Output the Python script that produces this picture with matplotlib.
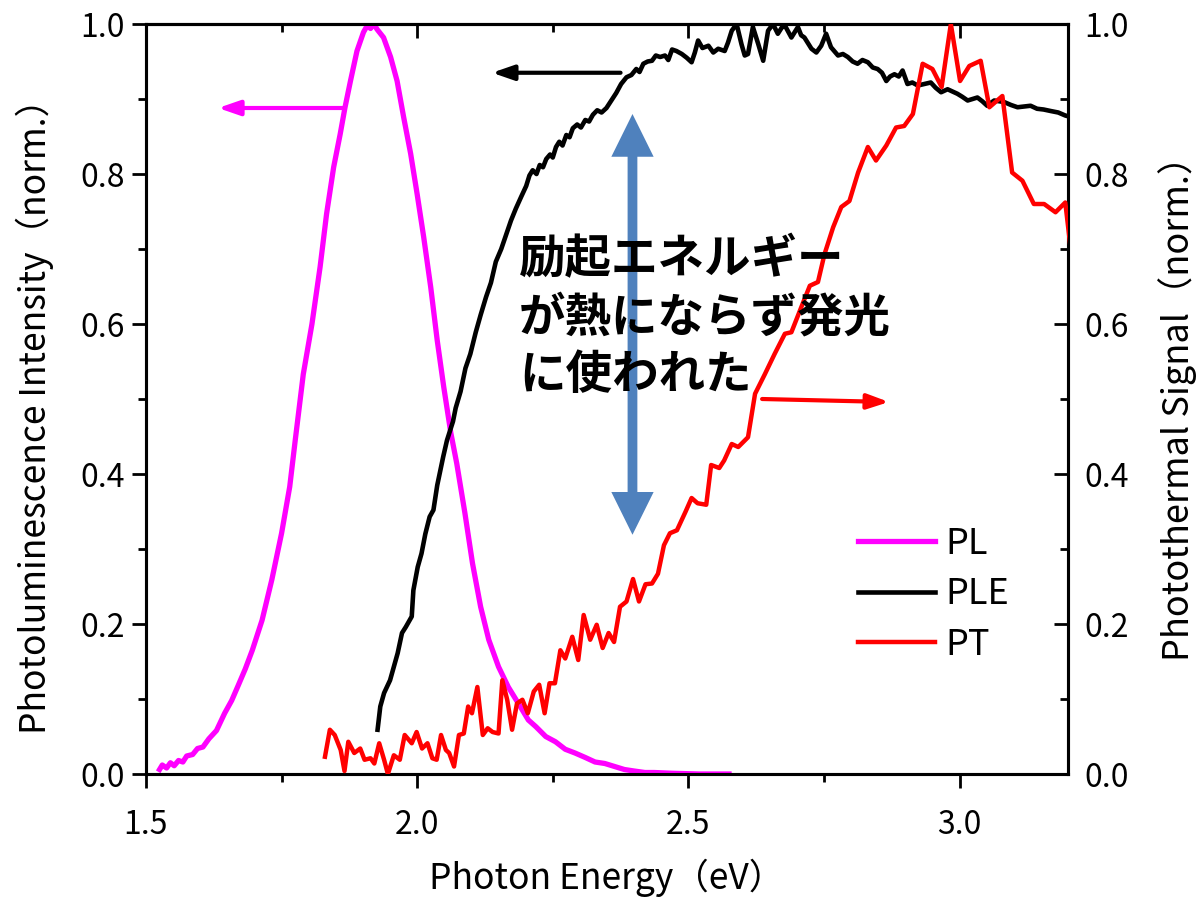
import matplotlib
matplotlib.use("Agg")
import matplotlib.pyplot as plt
from matplotlib.patches import FancyArrow
from matplotlib.ticker import MultipleLocator, FormatStrFormatter

plt.rcParams['font.family'] = ['Noto Sans CJK JP', 'DejaVu Sans']

# ---- PL spectrum (left axis) ----
pl_energy = [1.525, 1.530, 1.538, 1.545, 1.552, 1.560, 1.568, 1.575, 1.586, 1.595,
             1.605, 1.616, 1.630, 1.645, 1.658, 1.670, 1.683, 1.696, 1.714, 1.732,
             1.750, 1.765, 1.775, 1.790, 1.806, 1.821, 1.833, 1.846, 1.858, 1.867,
             1.877, 1.889, 1.901, 1.908, 1.914, 1.920, 1.926, 1.938, 1.951, 1.963,
             1.975, 1.988, 2.000, 2.012, 2.025, 2.037, 2.049, 2.062, 2.073, 2.088,
             2.102, 2.117, 2.132, 2.150, 2.168, 2.190, 2.205, 2.219, 2.237, 2.255,
             2.273, 2.291, 2.310, 2.328, 2.346, 2.364, 2.382, 2.400, 2.420, 2.437,
             2.470, 2.520, 2.575]
pl_intensity = [0.006, 0.012, 0.008, 0.015, 0.011, 0.018, 0.016, 0.024, 0.026, 0.034,
                0.036, 0.047, 0.058, 0.081, 0.098, 0.118, 0.140, 0.165, 0.205, 0.259,
                0.321, 0.383, 0.444, 0.533, 0.600, 0.676, 0.747, 0.809, 0.853, 0.889,
                0.924, 0.964, 0.989, 0.998, 0.994, 1.000, 0.993, 0.982, 0.956, 0.924,
                0.876, 0.827, 0.773, 0.716, 0.649, 0.578, 0.516, 0.455, 0.414, 0.348,
                0.281, 0.223, 0.179, 0.143, 0.116, 0.090, 0.072, 0.063, 0.050, 0.043,
                0.033, 0.028, 0.022, 0.016, 0.014, 0.010, 0.006, 0.004, 0.002, 0.002,
                0.001, 0.000, 0.000]

# ---- PLE spectrum (left axis) ----
ple_energy = [1.927, 1.932, 1.939, 1.950, 1.957, 1.964, 1.972, 1.979, 1.990, 1.993,
              2.001, 2.008, 2.015, 2.023, 2.030, 2.037, 2.048, 2.055, 2.066, 2.071,
              2.080, 2.089, 2.098, 2.108, 2.117, 2.127, 2.136, 2.145, 2.155, 2.164,
              2.173, 2.182, 2.192, 2.201, 2.207, 2.213, 2.220, 2.226, 2.232, 2.238,
              2.245, 2.250, 2.256, 2.262, 2.268, 2.275, 2.281, 2.287, 2.295, 2.302,
              2.310, 2.317, 2.324, 2.332, 2.340, 2.349, 2.358, 2.367, 2.376, 2.386,
              2.395, 2.404, 2.410, 2.417, 2.425, 2.433, 2.440, 2.448, 2.457, 2.463,
              2.470, 2.478, 2.488, 2.497, 2.506, 2.512, 2.518, 2.526, 2.537, 2.546,
              2.555, 2.567, 2.573, 2.580, 2.589, 2.598, 2.604, 2.610, 2.619, 2.629,
              2.638, 2.647, 2.656, 2.665, 2.672, 2.678, 2.690, 2.702, 2.708, 2.714,
              2.727, 2.736, 2.745, 2.754, 2.763, 2.776, 2.785, 2.794, 2.803, 2.812,
              2.821, 2.831, 2.840, 2.849, 2.857, 2.865, 2.872, 2.880, 2.888, 2.895,
              2.904, 2.913, 2.923, 2.935, 2.947, 2.956, 2.966, 2.978, 2.987, 2.996,
              3.005, 3.015, 3.024, 3.033, 3.042, 3.051, 3.058, 3.064, 3.073, 3.082,
              3.095, 3.107, 3.119, 3.131, 3.143, 3.155, 3.168, 3.182, 3.195, 3.200]
ple_intensity = [0.059, 0.090, 0.108, 0.125, 0.143, 0.161, 0.188, 0.196, 0.210, 0.245,
                 0.276, 0.294, 0.320, 0.343, 0.352, 0.385, 0.423, 0.445, 0.470, 0.488,
                 0.510, 0.541, 0.560, 0.589, 0.612, 0.636, 0.655, 0.683, 0.700, 0.719,
                 0.738, 0.754, 0.770, 0.784, 0.798, 0.805, 0.800, 0.812, 0.809, 0.820,
                 0.826, 0.822, 0.836, 0.843, 0.838, 0.852, 0.849, 0.861, 0.866, 0.862,
                 0.872, 0.870, 0.879, 0.885, 0.882, 0.888, 0.898, 0.908, 0.920, 0.929,
                 0.932, 0.940, 0.936, 0.947, 0.950, 0.951, 0.958, 0.956, 0.958, 0.952,
                 0.966, 0.964, 0.960, 0.955, 0.949, 0.962, 0.978, 0.968, 0.971, 0.962,
                 0.967, 0.964, 0.975, 0.991, 1.000, 0.973, 0.958, 0.960, 0.996, 0.973,
                 0.951, 0.991, 1.000, 0.987, 0.995, 0.998, 0.982, 0.996, 0.985, 0.982,
                 0.967, 0.962, 0.971, 0.987, 0.969, 0.958, 0.960, 0.956, 0.950, 0.947,
                 0.952, 0.949, 0.942, 0.940, 0.935, 0.924, 0.930, 0.933, 0.930, 0.938,
                 0.920, 0.922, 0.918, 0.920, 0.922, 0.915, 0.909, 0.913, 0.910, 0.907,
                 0.903, 0.898, 0.900, 0.902, 0.897, 0.891, 0.895, 0.898, 0.897, 0.896,
                 0.892, 0.889, 0.890, 0.891, 0.887, 0.886, 0.884, 0.882, 0.878, 0.877]

# ---- Photothermal signal (right axis) ----
pt_energy = [1.830, 1.839, 1.848, 1.859, 1.866, 1.873, 1.884, 1.895, 1.903, 1.914,
             1.921, 1.930, 1.939, 1.946, 1.957, 1.968, 1.977, 1.990, 1.999, 2.009,
             2.019, 2.028, 2.036, 2.044, 2.053, 2.059, 2.068, 2.077, 2.086, 2.094,
             2.101, 2.111, 2.121, 2.130, 2.139, 2.150, 2.157, 2.166, 2.175, 2.184,
             2.194, 2.204, 2.215, 2.225, 2.235, 2.244, 2.254, 2.264, 2.273, 2.286,
             2.297, 2.307, 2.319, 2.331, 2.342, 2.353, 2.363, 2.374, 2.386, 2.398,
             2.409, 2.421, 2.433, 2.444, 2.455, 2.466, 2.479, 2.495, 2.506, 2.517,
             2.533, 2.542, 2.557, 2.566, 2.580, 2.592, 2.610, 2.623, 2.641, 2.659,
             2.678, 2.690, 2.708, 2.724, 2.739, 2.751, 2.767, 2.782, 2.797, 2.813,
             2.831, 2.846, 2.865, 2.883, 2.898, 2.914, 2.932, 2.950, 2.967, 2.984,
             3.001, 3.018, 3.039, 3.055, 3.079, 3.097, 3.116, 3.137, 3.156, 3.177,
             3.195, 3.205]
pt_signal = [0.023, 0.059, 0.052, 0.032, 0.004, 0.043, 0.028, 0.034, 0.019, 0.021,
             0.014, 0.041, 0.019, 0.000, 0.025, 0.019, 0.052, 0.041, 0.056, 0.034,
             0.041, 0.021, 0.019, 0.052, 0.032, 0.028, 0.010, 0.052, 0.054, 0.090,
             0.081, 0.116, 0.052, 0.061, 0.056, 0.054, 0.125, 0.099, 0.059, 0.094,
             0.099, 0.081, 0.110, 0.119, 0.081, 0.121, 0.121, 0.165, 0.154, 0.183,
             0.152, 0.212, 0.179, 0.199, 0.168, 0.188, 0.176, 0.223, 0.230, 0.260,
             0.230, 0.253, 0.254, 0.267, 0.305, 0.321, 0.325, 0.350, 0.368, 0.361,
             0.359, 0.412, 0.408, 0.418, 0.440, 0.436, 0.449, 0.507, 0.533, 0.560,
             0.587, 0.589, 0.622, 0.651, 0.656, 0.693, 0.729, 0.756, 0.764, 0.802,
             0.836, 0.818, 0.838, 0.862, 0.864, 0.880, 0.947, 0.940, 0.916, 1.000,
             0.924, 0.944, 0.951, 0.889, 0.904, 0.802, 0.791, 0.760, 0.760, 0.749,
             0.762, 0.700]

x_ticks = [1.5, 2.0, 2.5, 3.0]
y_ticks = [0.0, 0.2, 0.4, 0.6, 0.8, 1.0]
series_names = ['PL', 'PLE', 'PT']
series_colors = ['#FF00FF', '#000000', '#FF0000']
note_text = '励起エネルギー\nが熱にならず発光\nに使われた'

fig = plt.figure(figsize=(11.96, 8.98), dpi=100)
ax = fig.add_axes([0.12207, 0.13808, 0.77090, 0.83519])
ax2 = ax.twinx()

pl_line, = ax.plot(pl_energy, pl_intensity, color=series_colors[0], lw=3.8,
                   solid_joinstyle='round', zorder=3)
ple_line, = ax.plot(ple_energy, ple_intensity, color=series_colors[1], lw=3.3,
                    solid_joinstyle='round', zorder=4)
pt_line, = ax2.plot(pt_energy, pt_signal, color=series_colors[2], lw=3.2,
                    solid_joinstyle='round', zorder=3)

for a in (ax, ax2):
    a.set_xlim(1.5, 3.2)
    a.set_ylim(0.0, 1.0)
    for s in a.spines.values():
        s.set_linewidth(2.2)

ax.set_xticks(x_ticks)
ax.xaxis.set_minor_locator(MultipleLocator(0.25))
ax.set_yticks(y_ticks)
ax.yaxis.set_minor_locator(MultipleLocator(0.1))
ax.xaxis.set_major_formatter(FormatStrFormatter('%.1f'))
ax.yaxis.set_major_formatter(FormatStrFormatter('%.1f'))
ax2.set_yticks(y_ticks)
ax2.yaxis.set_minor_locator(MultipleLocator(0.1))
ax2.yaxis.set_major_formatter(FormatStrFormatter('%.1f'))

tick_size = 23
ax.tick_params(axis='x', which='both', direction='out', top=False,
               labelsize=tick_size, pad=15)
ax.tick_params(axis='y', which='both', direction='out', right=False,
               labelsize=tick_size, pad=5)
ax.tick_params(which='major', length=10, width=2)
ax.tick_params(which='minor', length=5.5, width=2)
ax2.tick_params(axis='y', which='both', direction='in', left=False,
                labelsize=tick_size, pad=12)
ax2.tick_params(which='major', length=10, width=2)
ax2.tick_params(which='minor', length=5.5, width=2)

top = ax.secondary_xaxis('top')
top.set_xticks(x_ticks)
top.xaxis.set_minor_locator(MultipleLocator(0.25))
top.tick_params(which='both', direction='in', labeltop=False, width=2)
top.tick_params(which='major', length=10)
top.tick_params(which='minor', length=5.5)
top.spines['top'].set_linewidth(2.2)

ax.set_xlabel('Photon Energy（eV）', fontsize=25.5)
ax.set_ylabel('Photoluminescence Intensity（norm.）', fontsize=25.5)
ax2.set_ylabel('Photothermal Signal（norm.）', fontsize=26)
ax.xaxis.set_label_coords(0.5, -0.113)
ax.yaxis.set_label_coords(-0.100, 0.488)
ax2.yaxis.set_label_coords(1.098, 0.499)

# direction arrows pointing to each curve's axis
arrow_kw = dict(arrowstyle='-|>,head_length=1.3,head_width=0.45', lw=3.0,
                shrinkA=0, shrinkB=0, mutation_scale=10)
ax.annotate('', xy=(1.633, 0.888), xytext=(1.866, 0.888),
            arrowprops=dict(color=series_colors[0], **arrow_kw), zorder=5)
ax.annotate('', xy=(2.138, 0.935), xytext=(2.375, 0.935),
            arrowprops=dict(color=series_colors[1], **arrow_kw), zorder=5)
ax.annotate('', xy=(2.870, 0.496), xytext=(2.636, 0.500),
            arrowprops=dict(color=series_colors[2], **arrow_kw), zorder=5)

# double-headed blue arrow
arrow_x = 2.397
arrow_mid = 0.5995
for tip in (0.880, 0.319):
    ax2.add_patch(FancyArrow(arrow_x, arrow_mid, 0, tip - arrow_mid,
                             width=0.018, head_width=0.078, head_length=0.057,
                             length_includes_head=True, color='#4F81BD', lw=0,
                             zorder=6))

ax2.text(2.188, 0.718, note_text, fontsize=33.5, fontweight='bold', color='black',
         ha='left', va='top', linespacing=1.25, zorder=7)

ax2.legend([pl_line, ple_line, pt_line], series_names, loc='upper left',
           bbox_to_anchor=(0.772, 0.331), frameon=False, fontsize=26,
           handlelength=2.14, handletextpad=0.28, labelspacing=0.4,
           borderpad=0, borderaxespad=0)

fig.savefig('out.png', dpi=100)
